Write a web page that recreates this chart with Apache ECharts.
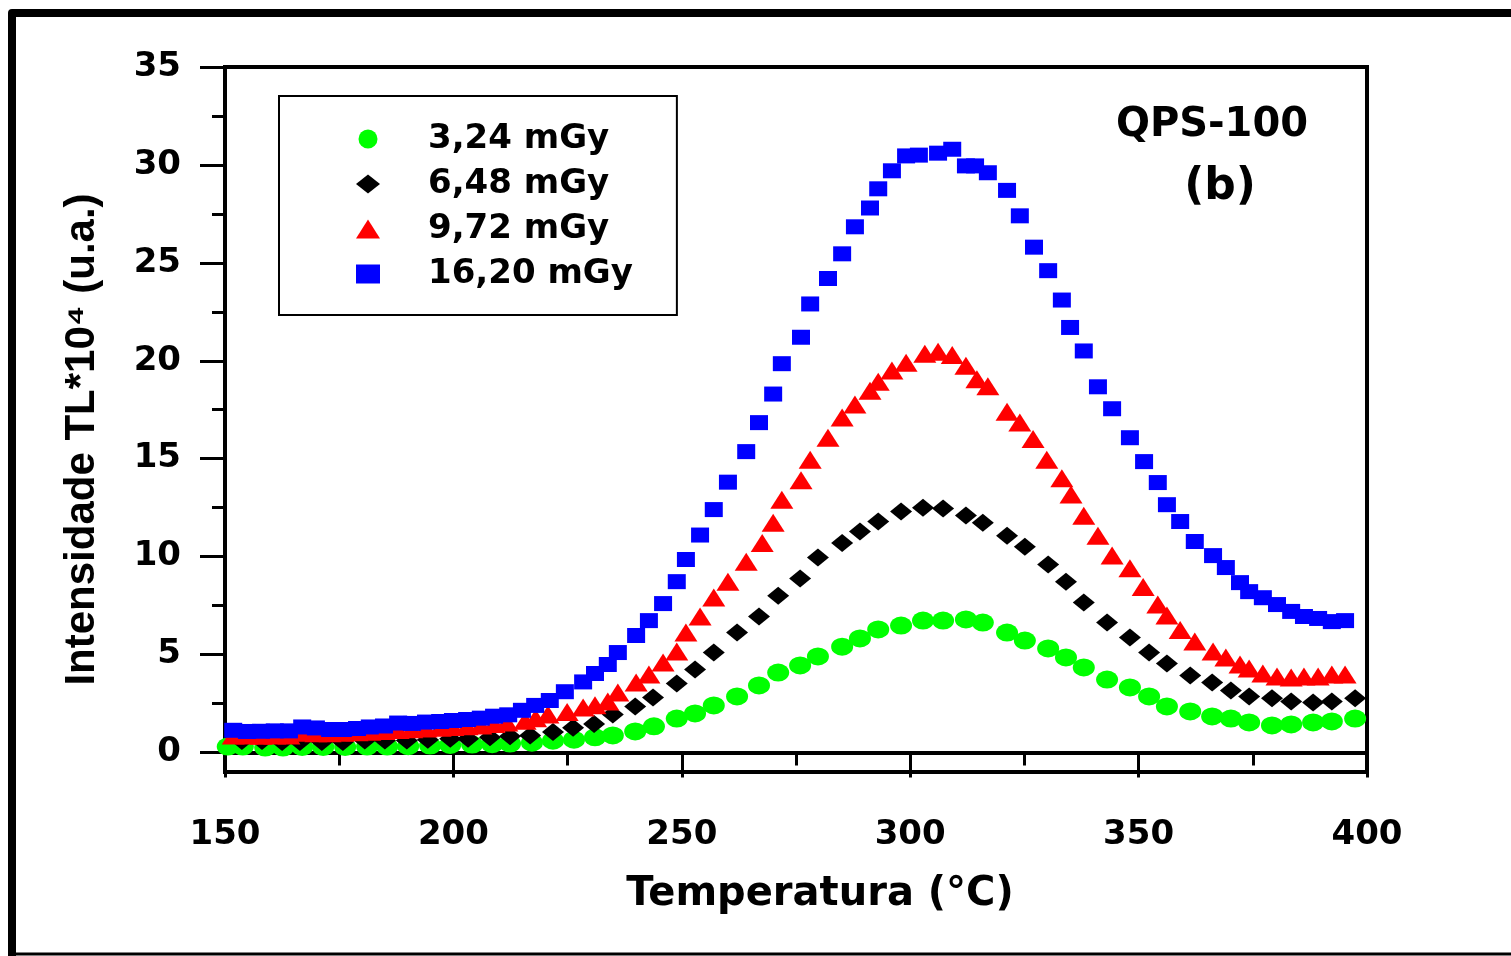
<!DOCTYPE html>
<html>
<head>
<meta charset="utf-8">
<script src="https://cdn.jsdelivr.net/npm/echarts@6/dist/echarts.min.js"></script>
<style>
html,body{margin:0;padding:0;background:#fff;}
#chart{width:1511px;height:956px;}
</style>
</head>
<body>
<div id="chart"></div>
<script>
// ---- Data ----
const seriesNames = ['3,24 mGy', '6,48 mGy', '9,72 mGy', '16,20 mGy'];

const greenT = [150.6,153.9,158.8,162.7,166.9,171.5,176.3,181.1,185.5,190.1,194.9,199.3,204.1,208.5,212.4,217.2,221.8,226.4,231.0,234.9,239.8,243.9,248.9,252.9,257.0,262.1,266.9,271.1,275.9,279.8,285.1,289.0,293.0,298.0,302.8,307.2,312.2,315.9,321.2,325.1,330.2,334.1,338.0,343.1,348.1,352.3,356.2,361.3,366.1,370.2,374.2,379.2,383.4,388.2,392.3,397.4];
const greenI = [0.3,0.3,0.25,0.25,0.28,0.28,0.28,0.3,0.3,0.32,0.35,0.38,0.4,0.42,0.45,0.5,0.6,0.65,0.77,0.87,1.07,1.33,1.73,1.99,2.4,2.86,3.42,4.08,4.44,4.9,5.4,5.82,6.28,6.48,6.73,6.73,6.79,6.63,6.12,5.71,5.31,4.85,4.34,3.72,3.32,2.86,2.35,2.09,1.84,1.73,1.53,1.38,1.43,1.53,1.58,1.73];

const blackT = [153.7,158.1,162.5,166.4,171.2,175.8,180.6,185.0,189.8,194.4,199.3,203.2,208.0,212.4,216.8,221.8,226.2,230.8,234.9,239.8,243.7,248.9,252.9,257.0,262.1,266.9,271.1,275.9,279.8,285.1,289.0,293.0,298.0,302.8,307.2,312.2,315.9,321.2,325.1,330.2,334.1,338.0,343.1,348.1,352.3,356.2,361.3,366.1,370.2,374.2,379.2,383.4,388.2,392.3,397.4];
const blackI = [0.58,0.58,0.53,0.53,0.53,0.53,0.61,0.61,0.61,0.65,0.7,0.7,0.78,0.82,0.87,1.04,1.26,1.45,1.94,2.35,2.8,3.52,4.23,5.1,6.12,6.94,8.0,8.88,9.95,10.7,11.28,11.79,12.3,12.5,12.45,12.1,11.73,11.07,10.5,9.6,8.72,7.65,6.63,5.87,5.1,4.54,3.93,3.57,3.16,2.86,2.76,2.6,2.55,2.6,2.76];

const redT = [151.8,154.8,157.9,160.9,164.0,166.9,169.9,173.0,175.8,178.9,181.7,184.8,187.9,190.9,194.0,197.1,199.9,203.0,206.0,208.9,211.7,215.7,218.0,220.7,224.9,228.4,231.0,233.8,236.0,240.0,242.8,245.9,248.9,250.9,254.0,257.0,260.1,264.1,267.6,270.0,271.9,276.1,278.1,282.0,285.1,287.9,291.2,293.0,296.0,299.1,303.2,306.1,309.2,312.2,314.6,317.0,321.2,324.0,326.9,329.9,333.2,335.2,338.0,341.1,344.2,348.1,351.0,354.2,356.2,359.1,362.3,366.3,369.1,372.2,374.2,377.2,380.3,383.4,386.2,389.3,392.3,395.2];
const redI = [0.87,0.86,0.85,0.86,0.87,1.0,0.98,0.98,1.0,1.03,1.06,1.1,1.15,1.18,1.22,1.26,1.3,1.34,1.38,1.45,1.53,1.62,1.75,1.94,2.07,2.3,2.41,2.6,3.06,3.57,3.98,4.59,5.15,6.12,6.94,7.91,8.72,9.74,10.7,11.73,12.9,13.9,14.95,16.07,17.1,17.76,18.47,18.93,19.5,19.9,20.36,20.46,20.3,19.75,19.05,18.7,17.4,16.85,16.0,14.95,14.0,13.17,12.09,11.07,10.05,9.4,8.45,7.55,6.99,6.25,5.66,5.15,4.85,4.49,4.29,4.03,3.88,3.83,3.88,3.88,3.98,3.98];

const blueT = [151.8,154.8,157.9,160.9,164.0,166.9,169.9,173.0,175.8,178.9,181.7,184.8,187.9,190.9,194.0,197.1,199.9,203.0,206.0,208.9,212.0,215.0,217.9,221.1,224.4,228.4,231.0,233.8,236.0,240.0,242.8,245.9,248.9,250.9,254.0,257.0,260.1,264.1,266.9,270.0,271.9,276.1,278.1,282.0,285.1,287.9,291.2,293.0,296.0,299.1,301.9,306.1,309.2,312.2,314.2,317.0,321.2,324.0,327.1,330.2,333.2,335.0,338.0,341.1,344.2,348.1,351.2,354.2,356.2,359.1,362.3,366.3,369.1,372.2,374.2,377.2,380.3,383.4,386.2,389.3,392.3,395.2];
const blueI = [1.13,1.07,1.08,1.1,1.1,1.3,1.25,1.17,1.17,1.22,1.3,1.35,1.5,1.48,1.55,1.58,1.63,1.68,1.75,1.85,1.92,2.15,2.4,2.65,3.1,3.6,4.03,4.49,5.1,5.97,6.73,7.6,8.72,9.85,11.1,12.4,13.8,15.36,16.84,18.3,19.85,21.2,22.9,24.2,25.46,26.84,27.8,28.78,29.7,30.46,30.5,30.6,30.8,29.95,29.95,29.6,28.7,27.4,25.8,24.6,23.1,21.7,20.5,18.67,17.55,16.07,14.85,13.78,12.65,11.79,10.77,10.05,9.44,8.67,8.21,7.9,7.55,7.2,6.94,6.84,6.68,6.73];

const xTicks = [150, 200, 250, 300, 350, 400];
const yMajorTicks = [0, 5, 10, 15, 20, 25, 30, 35];
const yMinorTicks = [2.5, 7.5, 12.5, 17.5, 22.5, 27.5, 32.5];

// ---- Chart ----
const zip = (t, v) => t.map((x, i) => [x, v[i]]);
const FONT = '"DejaVu Sans", "Liberation Sans", Arial, sans-serif';

const chart = echarts.init(document.getElementById('chart'), null, {renderer: 'canvas'});

const option = {
  animation: false,
  backgroundColor: '#fff',
  grid: {
    left: 225, right: 144, top: 67, bottom: 184,
    show: true, borderColor: '#000', borderWidth: 4,
    containLabel: false, outerBoundsMode: 'none'
  },
  legend: {
    orient: 'vertical',
    left: 279, top: 96,
    padding: [22, 44, 20, 77],
    itemGap: 3,
    itemWidth: 24, itemHeight: 19,
    symbolKeepAspect: false,
    borderColor: '#000', borderWidth: 2,
    selectedMode: false,
    data: seriesNames,
    textStyle: {
      fontFamily: FONT, fontWeight: 'bold', fontSize: 34, color: '#000',
      lineHeight: 36, padding: [6, 0, 0, 43]
    }
  },
  xAxis: {
    type: 'value',
    min: 150, max: 400, interval: 50,
    name: 'Temperatura (°C)',
    nameLocation: 'middle',
    nameGap: 103,
    nameTextStyle: {
      fontFamily: FONT, fontWeight: 'bold', fontSize: 40, color: '#000',
      padding: [0, 0, 0, 48]
    },
    splitLine: {show: false},
    axisLine: {lineStyle: {color: '#000', width: 4}},
    axisTick: {length: 25, lineStyle: {color: '#000', width: 3}},
    minorTick: {show: true, splitNumber: 2, length: 13, lineStyle: {color: '#000', width: 3}},
    axisLabel: {
      fontFamily: FONT, fontWeight: 'bold', fontSize: 34, color: '#000', margin: 46,
      customValues: xTicks
    }
  },
  yAxis: [
    {
      type: 'value',
      min: -1, max: 35,
      position: 'left',
      name: 'Intensidade TL*10⁴ (u.a.)',
      nameLocation: 'middle',
      nameGap: 122,
      nameRotate: 90,
      nameTextStyle: {
        fontFamily: '"Liberation Sans", Arial, sans-serif', fontWeight: 'bold', fontSize: 42, color: '#000',
        padding: [0, 40, 0, 0]
      },
      splitLine: {show: false},
      axisLine: {show: true, lineStyle: {color: '#000', width: 4}},
      axisTick: {show: true, length: 25, lineStyle: {color: '#000', width: 3}, customValues: yMajorTicks},
      axisLabel: {
        fontFamily: FONT, fontWeight: 'bold', fontSize: 34, color: '#000', margin: 44,
        customValues: yMajorTicks
      }
    },
    {
      type: 'value',
      min: -1, max: 35,
      position: 'left',
      splitLine: {show: false},
      axisLine: {show: false},
      axisLabel: {show: false},
      axisTick: {show: true, length: 13, lineStyle: {color: '#000', width: 3}, customValues: yMinorTicks}
    }
  ],
  series: [
    {
      name: seriesNames[0], type: 'scatter', symbol: 'circle', symbolSize: [22, 18],
      itemStyle: {color: '#00ff00', opacity: 1}, data: zip(greenT, greenI)
    },
    {
      name: seriesNames[1], type: 'scatter', symbol: 'diamond', symbolSize: [22, 18],
      itemStyle: {color: '#000000', opacity: 1}, data: zip(blackT, blackI)
    },
    {
      name: seriesNames[2], type: 'scatter', symbol: 'triangle', symbolSize: [23, 18],
      itemStyle: {color: '#ff0000', opacity: 1}, data: zip(redT, redI)
    },
    {
      name: seriesNames[3], type: 'scatter', symbol: 'rect', symbolSize: [18, 15],
      itemStyle: {color: '#0000ff', opacity: 1}, data: zip(blueT, blueI)
    }
  ],
  graphic: [
    {
      type: 'polyline', silent: true,
      shape: {points: [[12, 956], [12, 13], [1511, 13]]},
      style: {stroke: '#000', lineWidth: 8, fill: null, lineJoin: 'round'}
    },
    {
      type: 'line', silent: true,
      shape: {x1: 8, y1: 954, x2: 1511, y2: 954},
      style: {stroke: '#000', lineWidth: 3}
    },
    {
      type: 'text', silent: true,
      style: {
        text: 'QPS-100', x: 1212, y: 126,
        align: 'center', verticalAlign: 'middle', textAlign: 'center', textVerticalAlign: 'middle',
        fontFamily: FONT, fontWeight: 'bold', fontSize: 40, fill: '#000'
      }
    },
    {
      type: 'text', silent: true,
      style: {
        text: '(b)', x: 1220, y: 188,
        align: 'center', verticalAlign: 'middle', textAlign: 'center', textVerticalAlign: 'middle',
        fontFamily: FONT, fontWeight: 'bold', fontSize: 44, fill: '#000'
      }
    }
  ]
};

chart.setOption(option);
</script>
</body>
</html>
